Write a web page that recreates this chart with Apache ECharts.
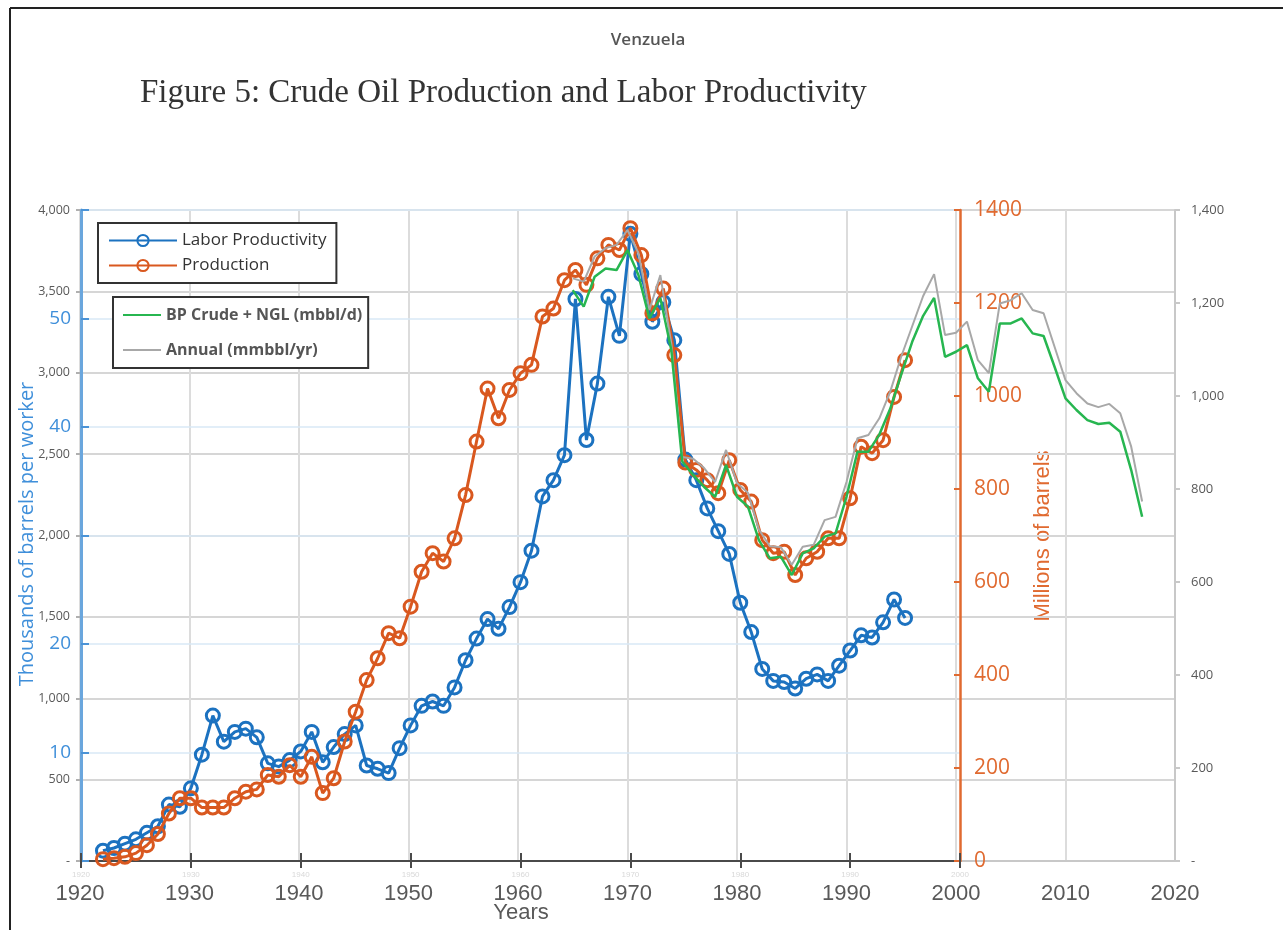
<!DOCTYPE html>
<html>
<head>
<meta charset="utf-8">
<title>Venzuela</title>
<script src="https://cdn.jsdelivr.net/npm/echarts@6/dist/echarts.min.js"></script>
<style>
  html, body { margin: 0; padding: 0; background: #fff; }
  #chart { width: 1283px; height: 930px; }
</style>
</head>
<body>
<div id="chart"></div>
<script>
// years of the first point of each group of series
const laborStartYear = 1922;
const bpStartYear = 1965;

// thousands of barrels per worker, 1922-1995
const laborProductivity = [
  0.95, 1.2, 1.6, 2.0, 2.6, 3.2, 5.2, 5.0, 6.7, 9.8,
  13.4, 11.0, 11.9, 12.2, 11.4, 9.0, 8.7, 9.3, 10.1, 11.9,
  9.1, 10.5, 11.7, 12.5, 8.8, 8.5, 8.1, 10.4, 12.5, 14.3,
  14.7, 14.3, 16.0, 18.5, 20.5, 22.3, 21.4, 23.4, 25.7, 28.6,
  33.6, 35.1, 37.4, 51.8, 38.8, 44.0, 52.0, 48.4, 57.8, 54.1,
  49.7, 51.5, 48.0, 37.0, 35.1, 32.5, 30.4, 28.3, 23.8, 21.1,
  17.7, 16.6, 16.5, 15.9, 16.8, 17.2, 16.6, 18.0, 19.4, 20.8,
  20.6, 22.0, 24.1, 22.4
];

// millions of barrels, 1922-1995
const production = [
  4, 6, 9, 17, 34, 58, 102, 135, 135, 115,
  115, 115, 135, 149, 154, 185, 181, 206, 181, 224,
  146, 178, 257, 321, 389, 436, 490, 479, 547, 622,
  662, 644, 694, 787, 902, 1016, 952, 1013, 1049, 1067,
  1171, 1188, 1249, 1271, 1239, 1296, 1325, 1314, 1361, 1303,
  1178, 1231, 1088, 857, 841, 819, 791, 862, 798, 773,
  690, 662, 665, 615, 651, 665, 694, 694, 780, 891,
  877, 905, 998, 1077
];

// BP crude + NGL, mbbl/d, 1965-2017
const bpCrude = [
  3508, 3406, 3590, 3641, 3631, 3754, 3600, 3334, 3460, 3140,
  2455, 2372, 2298, 2238, 2433, 2238, 2177, 1972, 1860, 1870,
  1757, 1890, 1921, 1993, 2013, 2238, 2515, 2515, 2620, 2780,
  2990, 3190, 3350, 3460, 3098, 3129, 3170, 2966, 2883, 3303,
  3303, 3334, 3242, 3226, 3037, 2843, 2771, 2709, 2685, 2693,
  2638, 2402, 2115
];

// annual, mmbbl/yr, 1965-2017
const annual = [
  1253, 1246, 1300, 1318, 1325, 1357, 1307, 1185, 1260, 1113,
  869, 865, 845, 815, 884, 813, 792, 713, 677, 675,
  637, 676, 680, 733, 740, 815, 909, 916, 952, 1010,
  1085, 1150, 1215, 1262, 1131, 1136, 1160, 1077, 1049, 1199,
  1206, 1221, 1185, 1178, 1106, 1034, 1006, 984, 976, 983,
  963, 891, 773
];

function pairs(start, values) {
  return values.map((v, i) => [start + i, v]);
}

const BLUE = '#1C72C0';
const ORANGE = '#D9581F';
const GREEN = '#27B650';
const GRAY = '#A8A8A8';
const NARROW = '"Liberation Sans Narrow", "Arial Narrow", sans-serif';
const SANS = '"Open Sans", "Noto Sans", sans-serif';

function thousands(v) {
  return v === 0 ? '-' : v.toLocaleString('en-US');
}

const chart = echarts.init(document.getElementById('chart'));

chart.setOption({
  animation: false,
  backgroundColor: '#fff',
  grid: [
    // inner chart: labor productivity and production, 1920-2000
    { left: 81, right: 323, top: 210, bottom: 69, outerBoundsMode: 'none', containLabel: false },
    // outer chart: BP data, 1920-2020
    { left: 80, right: 108, top: 210, bottom: 69, outerBoundsMode: 'none', containLabel: false }
  ],
  xAxis: [
    {
      gridIndex: 0, type: 'value', min: 1920, max: 2000, interval: 10,
      position: 'bottom', z: 2,
      axisLine: { lineStyle: { color: '#4a4a4a', width: 2 } },
      axisTick: { inside: true, length: 8, lineStyle: { color: '#4a4a4a', width: 2 } },
      axisLabel: { color: '#d8d8d8', fontSize: 8, margin: 10, formatter: v => String(v) },
      splitLine: { show: false }
    },
    {
      gridIndex: 0, type: 'value', min: 1920, max: 2000, interval: 10,
      position: 'top', z: 2,
      axisLine: { lineStyle: { color: '#4a4a4a', width: 2 } },
      axisTick: { inside: true, length: 7, lineStyle: { color: '#4a4a4a', width: 2 } },
      axisLabel: { show: false },
      splitLine: { show: false }
    },
    {
      gridIndex: 1, type: 'value', min: 1920, max: 2020, interval: 10,
      position: 'bottom', z: 0,
      axisLine: { lineStyle: { color: '#c8c8c8', width: 2 } },
      axisTick: { show: false },
      axisLabel: { fontFamily: NARROW, fontSize: 22, color: '#595959', margin: 22, formatter: v => String(v) },
      splitLine: { show: true, lineStyle: { color: '#dcdcdc', width: 2 } }
    }
  ],
  yAxis: [
    {
      gridIndex: 0, type: 'value', min: 0, max: 60, interval: 10,
      position: 'left', z: 2,
      axisLine: { show: true, lineStyle: { color: '#6aa6dd', width: 3 } },
      axisTick: { show: true, inside: true, length: 8, lineStyle: { color: '#4b93d6', width: 2 } },
      axisLabel: {
        color: '#3F8FDA', fontSize: 19, fontFamily: SANS, margin: 10,
        formatter: v => (v === 0 || v === 30 || v === 60) ? '' : String(v)
      },
      splitLine: { show: true, lineStyle: { color: '#d9e8f6', width: 1.5 } }
    },
    {
      gridIndex: 0, type: 'value', min: 0, max: 1400, interval: 200,
      position: 'right', z: 2,
      axisLine: { show: true, lineStyle: { color: '#E06A30', width: 2.5 } },
      axisTick: { show: true, inside: true, length: 6, lineStyle: { color: '#E06A30', width: 2 } },
      axisLabel: { color: '#E06A30', fontSize: 21, fontFamily: SANS, margin: 14, formatter: v => String(v) },
      splitLine: { show: false }
    },
    {
      gridIndex: 1, type: 'value', min: 0, max: 4000, interval: 500,
      position: 'left', z: 0,
      axisLine: { show: false },
      axisTick: { show: true, length: 4, lineStyle: { color: '#b0b0b0', width: 2 } },
      axisLabel: { color: '#595959', fontSize: 12.5, fontFamily: SANS, margin: 10, formatter: thousands },
      splitLine: { show: true, lineStyle: { color: '#d6d6d6', width: 2 } }
    },
    {
      gridIndex: 1, type: 'value', min: 0, max: 1400, interval: 200,
      position: 'right', z: 0,
      axisLine: { show: true, lineStyle: { color: '#c8c8c8', width: 2 } },
      axisTick: { show: true, length: 5, lineStyle: { color: '#c8c8c8', width: 2 } },
      axisLabel: { color: '#595959', fontSize: 13, fontFamily: SANS, margin: 16, formatter: thousands },
      splitLine: { show: false }
    }
  ],
  legend: [
    {
      data: ['Labor Productivity', 'Production'],
      orient: 'vertical', left: 98, top: 223,
      backgroundColor: '#fff', borderColor: '#333', borderWidth: 2, borderRadius: 0,
      padding: [9, 10, 9, 10],
      itemWidth: 68, itemHeight: 14, itemGap: 8,
      textStyle: { fontSize: 17, color: '#333', fontFamily: SANS }
    },
    {
      data: [
        { name: 'BP Crude + NGL (mbbl/d)', itemStyle: { opacity: 0 } },
        { name: 'Annual (mmbbl/yr)', itemStyle: { opacity: 0 } }
      ],
      orient: 'vertical', left: 113, top: 297,
      backgroundColor: '#fff', borderColor: '#333', borderWidth: 2, borderRadius: 0,
      padding: [10, 6, 10, 9],
      itemWidth: 38, itemHeight: 14, itemGap: 19,
      textStyle: { fontSize: 16, color: '#555', fontWeight: 'bold', fontFamily: SANS }
    }
  ],
  series: [
    {
      name: 'Labor Productivity', type: 'line',
      xAxisIndex: 0, yAxisIndex: 0,
      data: pairs(laborStartYear, laborProductivity),
      symbol: 'circle', symbolSize: 13,
      lineStyle: { color: BLUE, width: 3 },
      itemStyle: { color: 'rgba(255,255,255,0)', borderColor: BLUE, borderWidth: 3 },
      z: 3
    },
    {
      name: 'Production', type: 'line',
      xAxisIndex: 0, yAxisIndex: 1,
      data: pairs(laborStartYear, production),
      symbol: 'circle', symbolSize: 13,
      lineStyle: { color: ORANGE, width: 3 },
      itemStyle: { color: 'rgba(255,255,255,0)', borderColor: ORANGE, borderWidth: 3 },
      z: 4
    },
    {
      name: 'Annual (mmbbl/yr)', type: 'line',
      xAxisIndex: 2, yAxisIndex: 3,
      data: pairs(bpStartYear, annual),
      symbol: 'none',
      lineStyle: { color: GRAY, width: 2 },
      itemStyle: { color: GRAY },
      z: 5
    },
    {
      name: 'BP Crude + NGL (mbbl/d)', type: 'line',
      xAxisIndex: 2, yAxisIndex: 2,
      data: pairs(bpStartYear, bpCrude),
      symbol: 'none',
      lineStyle: { color: GREEN, width: 2.5 },
      itemStyle: { color: GREEN },
      z: 6
    }
  ],
  graphic: [
    // page frame (left and top edges visible)
    { type: 'line', shape: { x1: 10, y1: 8, x2: 1283, y2: 8 }, style: { stroke: '#222', lineWidth: 2 } },
    { type: 'line', shape: { x1: 10, y1: 8, x2: 10, y2: 930 }, style: { stroke: '#222', lineWidth: 2 } },
    {
      type: 'text', x: 648, y: 40,
      style: { text: 'Venzuela', font: '600 17px "Open Sans", sans-serif', fill: '#555', textAlign: 'center', textVerticalAlign: 'middle' }
    },
    {
      type: 'text', x: 140, y: 93,
      style: { text: 'Figure 5: Crude Oil Production and Labor Productivity', font: '33px "Liberation Serif", serif', fill: '#333', textAlign: 'left', textVerticalAlign: 'middle' }
    },
    {
      type: 'text', x: 27, y: 534, rotation: Math.PI / 2,
      style: { text: 'Thousands of barrels per worker', font: '20px "Open Sans", sans-serif', fill: '#3F8FDA', textAlign: 'center', textVerticalAlign: 'middle' }
    },
    {
      type: 'text', x: 1043, y: 536, rotation: Math.PI / 2,
      style: { text: 'Millions of barrels', font: '22px "Liberation Sans Narrow", "Arial Narrow", sans-serif', fill: '#E06A30', textAlign: 'center', textVerticalAlign: 'middle' }
    },
    {
      type: 'text', x: 521, y: 913,
      style: { text: 'Years', font: '22px "Liberation Sans Narrow", "Arial Narrow", sans-serif', fill: '#595959', textAlign: 'center', textVerticalAlign: 'middle' }
    }
  ]
});
</script>
</body>
</html>
